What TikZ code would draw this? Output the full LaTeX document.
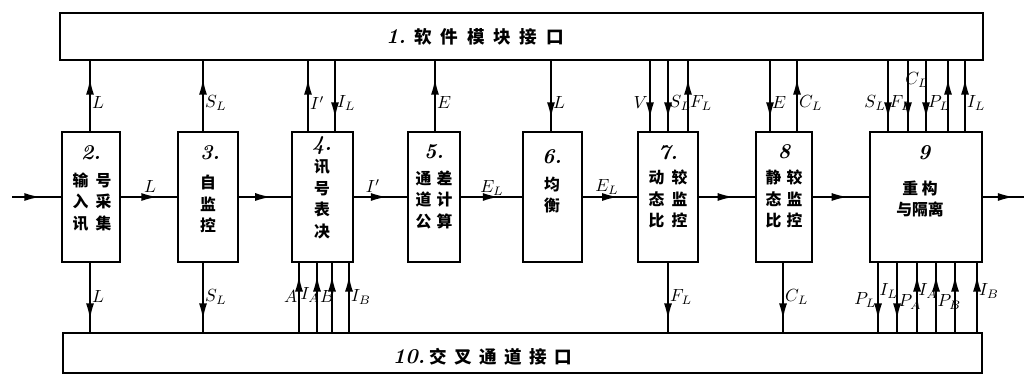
\documentclass[tikz,border=0pt]{standalone}
\usepackage{fontspec}
\newfontfamily\cjk{Noto Sans CJK SC}
\usetikzlibrary{arrows.meta,decorations.markings}
\begin{document}
\begin{tikzpicture}[x=0.02cm,y=-0.02cm,
 box/.style={draw,line width=1.4pt,inner sep=0pt},
 ln/.style={line width=1pt},
 hm/.style={ln,postaction={decorate},decoration={markings,mark=at position #1 with {\arrow{Latex[length=3.2mm,width=1.6mm]}}}},
 hm/.default=0.6,
 lab/.style={font=\fontsize{10}{11}\selectfont,inner sep=0.5pt},
 cn/.style={font=\cjk\bfseries\fontsize{9}{12.3}\selectfont,align=center,inner sep=0pt},
 bar/.style={font=\cjk\bfseries\fontsize{10}{12}\selectfont,inner sep=0pt,anchor=west},
 num/.style={font=\bfseries\itshape\fontsize{12}{13}\selectfont,inner sep=0pt}
]
\useasboundingbox (0,0) rectangle (1027,377);
% bars
\node[box,minimum width=18.46cm,minimum height=0.94cm] (top) at (521.5,36.5) {};
\node[box,minimum width=18.38cm,minimum height=0.8cm] (bot) at (522.5,353) {};
\node[num] (n1) at (396,37) {1.};
\node[bar] (b1) at (414,37) {软\hspace{5pt}件\hspace{5pt}模\hspace{5pt}块\hspace{5pt}接\hspace{5pt}口};
\node[num] (n10) at (409,357) {10.};
\node[bar] (b10) at (429,357) {交\hspace{4.3pt}叉\hspace{4.3pt}通\hspace{4.3pt}道\hspace{4.3pt}接\hspace{4.3pt}口};
% modules
\node[box,minimum width=1.16cm,minimum height=2.6cm] (m2) at (91,197) {};
\node[box,minimum width=1.2cm,minimum height=2.6cm] (m3) at (208,197) {};
\node[box,minimum width=1.22cm,minimum height=2.6cm] (m4) at (322.5,197) {};
\node[box,minimum width=1.04cm,minimum height=2.6cm] (m5) at (434,197) {};
\node[box,minimum width=1.18cm,minimum height=2.6cm] (m6) at (552.5,197) {};
\node[box,minimum width=1.2cm,minimum height=2.6cm] (m7) at (668,197) {};
\node[box,minimum width=1.12cm,minimum height=2.6cm] (m8) at (784,197) {};
\node[box,minimum width=2.24cm,minimum height=2.6cm] (m9) at (926,197) {};
% module texts
\node[num] (n2) at (91,153) {2.};
\node[cn] (t2) at (92,202) {输\hspace{4pt}号\\入\hspace{4pt}采\\讯\hspace{4pt}集};
\node[num] (n3) at (210,153) {3.};
\node[cn] (t3) at (208,204) {自\\监\\控};
\node[num] (n4) at (322,146) {4.};
\node[cn] (t4) at (322,199) {讯\\号\\表\\决};
\node[num] (n5) at (434,152) {5.};
\node[cn] (t5) at (434,200) {通\hspace{3pt}差\\道\hspace{3pt}计\\公\hspace{3pt}算};
\node[num] (n6) at (552,157) {6.};
\node[cn] (t6) at (552,195) {均\\衡};
\node[num] (n7) at (668,153) {7.};
\node[cn] (t7) at (668,199) {动\hspace{4pt}较\\态\hspace{4pt}监\\比\hspace{4pt}控};
\node[num] (n8) at (784,152) {8};
\node[cn] (t8) at (784,199) {静\hspace{3pt}较\\态\hspace{3pt}监\\比\hspace{3pt}控};
\node[num] (n9) at (924,153) {9};
\node[cn] (t9) at (920,199) {重\hspace{2pt}构\\与隔离};
% horizontal flow
\coordinate (in) at (12,197);
\coordinate (out) at (1024,197);
\draw[hm=0.58] (in) -- (m2.west);
\draw[hm=0.65] (m2.east) -- (m3.west);
\draw[hm=0.62] (m3.east) -- (m4.west);
\draw[hm=0.62] (m4.east) -- (m5.west);
\draw[hm=0.62] (m5.east) -- (m6.west);
\draw[hm=0.65] (m6.east) -- (m7.west);
\draw[hm=0.62] (m7.east) -- (m8.west);
\draw[hm=0.62] (m8.east) -- (m9.west);
\draw[hm=0.75] (m9.east) -- (out);
\node[lab] (h1) at (150,187) {$L$};
\node[lab] (h2) at (373,186) {$I'$};
\node[lab] (h3) at (492,188) {$E_L$};
\node[lab] (h4) at (607,187) {$E_L$};
% vertical arrows, top
\foreach \x/\m in {90/m2,203/m3,308/m4,435/m5,688/m7,797/m8,948/m9,965/m9}{
  \coordinate (c) at (\x,0);
  \draw[hm=0.75] (\m.north -| c) -- (top.south -| c);}
\foreach \x/\m in {335/m4,551/m6,650/m7,668/m7,770/m8,888/m9,908/m9,926/m9}{
  \coordinate (c) at (\x,0);
  \draw[hm=0.82] (top.south -| c) -- (\m.north -| c);}
% vertical arrows, bottom
\foreach \x/\m in {90/m2,203/m3,668/m7,783/m8,878/m9,897/m9}{
  \coordinate (c) at (\x,0);
  \draw[hm=0.82] (\m.south -| c) -- (bot.north -| c);}
\foreach \x/\m in {299/m4,317/m4,332/m4,349/m4,917/m9,936/m9,955/m9,977/m9}{
  \coordinate (c) at (\x,0);
  \draw[hm=0.82] (bot.north -| c) -- (\m.south -| c);}
% labels, top
\node[lab,anchor=west] (a1) at (91,103) {$L$};
\node[lab,anchor=west] (a2) at (204,103) {$S_L$};
\node[lab,anchor=west] (a3) at (309,103) {$I'$};
\node[lab,anchor=west] (a4) at (336,103) {$I_L$};
\node[lab,anchor=west] (a5) at (436,103) {$E$};
\node[lab,anchor=west] (a6) at (552,103) {$L$};
\node[lab,anchor=east] (a7) at (649,103) {$V$};
\node[lab,anchor=west] (a8) at (668.5,103) {$S_L$};
\node[lab,anchor=west] (a9) at (689,103) {$F_L$};
\node[lab,anchor=west] (a10) at (771,103) {$E$};
\node[lab,anchor=west] (a11) at (798,103) {$C_L$};
\node[lab,anchor=east] (a12) at (887,103) {$S_L$};
\node[lab,anchor=west] (a13) at (888.5,103) {$F_L$};
\node[lab] (a14) at (917,80) {$C_L$};
\node[lab,anchor=west] (a15) at (927,103) {$P_L$};
\node[lab,anchor=west] (a16) at (966,103) {$I_L$};
% labels, bottom
\node[lab,anchor=west] (d1) at (91,297) {$L$};
\node[lab,anchor=west] (d2) at (204,297) {$S_L$};
\node[lab,anchor=east] (d3) at (298.5,297) {$A$};
\node[lab,anchor=west] (d4) at (299.5,295) {$I_A$};
\node[lab,anchor=west] (d5) at (319,297) {$B$};
\node[lab,anchor=west] (d6) at (350,297) {$I_B$};
\node[lab,anchor=west] (d7) at (669,297) {$F_L$};
\node[lab,anchor=west] (d8) at (784,297) {$C_L$};
\node[lab,anchor=east] (d9) at (877.5,300) {$P_L$};
\node[lab,anchor=west] (d10) at (878.5,291) {$I_L$};
\node[lab,anchor=west] (d11) at (897.5,302) {$P_A$};
\node[lab,anchor=west] (d12) at (917.5,291) {$I_A$};
\node[lab,anchor=west] (d13) at (936.5,302) {$P_B$};
\node[lab,anchor=west] (d14) at (978,291) {$I_B$};
\end{tikzpicture}
\end{document}
